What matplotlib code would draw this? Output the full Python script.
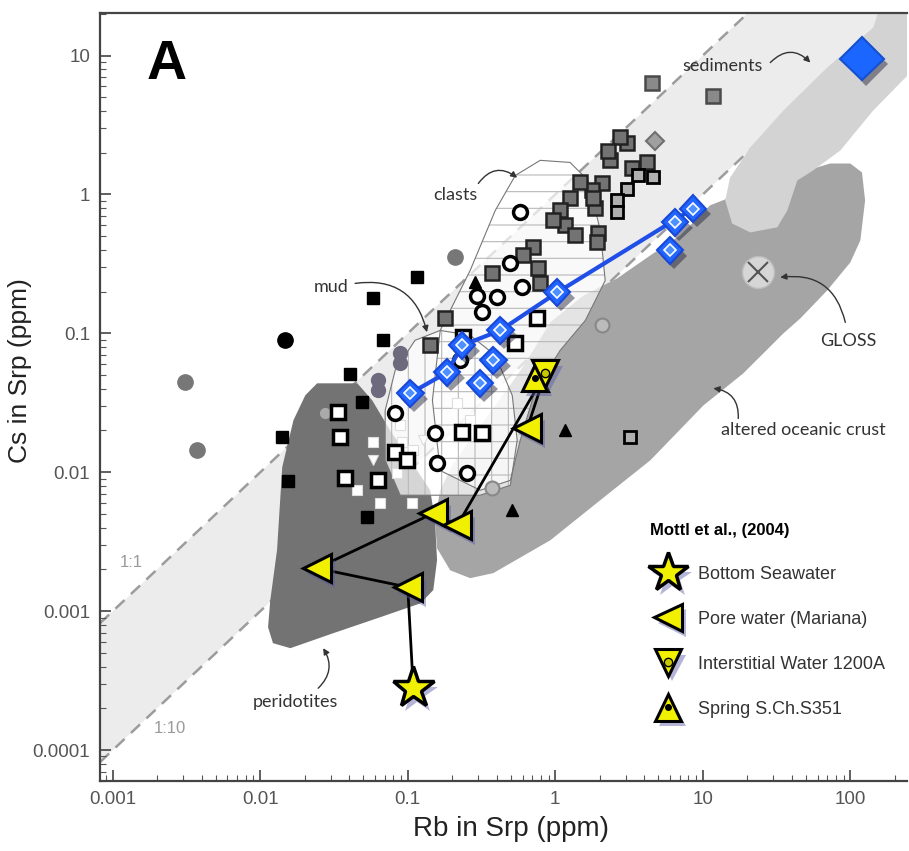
import numpy as np
import matplotlib.pyplot as plt
import matplotlib.patheffects as pe
from matplotlib.lines import Line2D
from matplotlib.ticker import NullFormatter

plt.rcParams['font.family'] = ['Liberation Sans', 'DejaVu Sans']
plt.rcParams['hatch.linewidth'] = 0.8

# ---- axes ----
x_ticks = [0.001, 0.01, 0.1, 1, 10, 100]
x_tick_labels = ['0.001', '0.01', '0.1', '1', '10', '100']
y_ticks = [0.0001, 0.001, 0.01, 0.1, 1, 10]
y_tick_labels = ['0.0001', '0.001', '0.01', '0.1', '1', '10']

# Cs/Rb reference lines
ratio_lines = [1.0, 0.1]
ratio_labels = ['1:1', '1:10']
ratio_label_rb = [0.00133, 0.00245]
ratio_label_cs = [0.00225, 0.000144]

# ---- fields (Rb ppm, Cs ppm) ----
sed_rb = [160, 276, 276, 143, 85.5, 56.1, 43.7, 37.4, 32.0, 21.0, 15.8, 14.2, 15.3, 21.0, 35.2, 69.8, 143]
sed_cs = [22.9, 22.9, 8.2, 4.02, 2.07, 1.49, 1.26, 0.767, 0.58, 0.533, 0.618, 0.906, 1.32, 2.18, 4.02, 8.2, 15.9]

aoc_rb = [45.8, 73.1, 100, 120, 126, 117, 100, 69.8, 45.8, 35.2, 18.8, 10.1, 4.41, 2.02, 0.925, 0.38, 0.265,
          0.194, 0.158, 0.153, 0.166, 0.2, 0.265, 0.392, 0.552, 0.71, 0.925, 1.55, 2.63, 4.41, 7.03, 11.2, 24.5]
aoc_cs = [1.44, 1.67, 1.67, 1.44, 0.906, 0.467, 0.324, 0.204, 0.128, 0.1, 0.0515, 0.0303, 0.0122, 0.0063, 0.00324,
          0.00188, 0.00173, 0.00197, 0.00284, 0.00452, 0.00743, 0.0112, 0.017, 0.0303, 0.0499, 0.0755, 0.12, 0.187,
          0.249, 0.364, 0.507, 0.834, 1.16]

perid_rb = [0.0243, 0.0455, 0.0574, 0.076, 0.104, 0.142, 0.153, 0.158, 0.149, 0.122, 0.0652, 0.0313, 0.016,
            0.0122, 0.0113, 0.0117, 0.013, 0.0141, 0.0168, 0.0202]
perid_cs = [0.0437, 0.0437, 0.033, 0.02, 0.0122, 0.00743, 0.00452, 0.00233, 0.00142, 0.00114, 0.000906, 0.000695,
            0.000542, 0.000589, 0.000767, 0.0012, 0.00275, 0.0109, 0.0237, 0.0358]

mud_rb = [0.112, 0.166, 0.265, 0.392, 0.511, 0.552, 0.496, 0.31, 0.0889, 0.0703, 0.0703, 0.0822]
mud_cs = [0.0891, 0.105, 0.0968, 0.0695, 0.0358, 0.017, 0.00806, 0.00684, 0.00684, 0.0122, 0.0279, 0.0542]

clast_rb = [0.166, 0.147, 0.166, 0.265, 0.392, 0.536, 0.791, 1.26, 1.67, 2.02, 2.18, 1.6, 1.08, 0.731, 0.579, 0.496, 0.31]
clast_cs = [0.0103, 0.033, 0.105, 0.284, 0.767, 1.37, 1.76, 1.7, 1.26, 0.551, 0.24, 0.124, 0.0755, 0.0389, 0.017, 0.00875, 0.00743]

# ---- serpentinite samples ----
blk_sq_rb = [0.116, 0.0583, 0.0683, 0.0407, 0.0492, 0.0141, 0.0155, 0.0531]
blk_sq_cs = [0.253, 0.179, 0.0891, 0.0507, 0.0319, 0.0179, 0.0086, 0.00474]
blk_ci_rb = [0.0148]
blk_ci_cs = [0.0891]
gry_ci_rb = [0.0031, 0.00374, 0.21]
gry_ci_cs = [0.0444, 0.0144, 0.352]
blob_rb = [0.089, 0.089, 0.063, 0.063]
blob_cs = [0.072, 0.061, 0.046, 0.039]
open_sq_rb = [0.0338, 0.0348, 0.0377, 0.0631, 0.0822, 0.0993, 0.234, 0.32, 0.238, 0.536, 0.755]
open_sq_cs = [0.027, 0.0179, 0.00905, 0.00875, 0.0139, 0.0122, 0.0194, 0.0191, 0.0935, 0.0847, 0.130]
wht_sq_rb = [0.0583, 0.0455, 0.0652, 0.0849, 0.107, 0.0889, 0.109, 0.0918, 0.265, 0.217]
wht_sq_cs = [0.0164, 0.00743, 0.00598, 0.00984, 0.00598, 0.0218, 0.0144, 0.0164, 0.0237, 0.0313]
wht_tri_rb = [0.0583, 0.127]
wht_tri_cs = [0.0122, 0.017]
lgt_ci_rb = [0.0276]
lgt_ci_cs = [0.0266]
open_ci_rb = [0.579, 0.496, 0.597, 0.296, 0.405, 0.32, 0.0822, 0.153, 0.158, 0.253, 0.227]
open_ci_cs = [0.743, 0.319, 0.214, 0.187, 0.182, 0.142, 0.0266, 0.0191, 0.0116, 0.00984, 0.064]
gsq_rb = [2.36, 3.08, 2.76, 2.29, 3.33, 4.2, 2.08, 1.78, 1.87, 1.48, 1.26, 1.08, 1.17, 0.968, 1.37, 1.96, 1.93,
          0.71, 0.767, 0.607, 0.374, 0.791, 1.81, 0.179, 0.142]
gsq_cs = [1.76, 2.33, 2.57, 2.07, 1.56, 1.7, 1.2, 1.07, 0.805, 1.22, 0.95, 0.767, 0.598, 0.65, 0.507, 0.524, 0.452,
          0.416, 0.294, 0.364, 0.27, 0.229, 0.95, 0.128, 0.082]
lsq_rb = [3.66, 4.62, 3.08, 2.63, 2.63, 3.22]
lsq_cs = [1.37, 1.33, 1.1, 0.906, 0.743, 0.0179]
sed_sq_rb = [4.55, 11.8]
sed_sq_cs = [6.3, 5.15]
gry_dia_rb = [4.76]
gry_dia_cs = [2.44]
gry_open_rb = [2.08, 0.374]
gry_open_cs = [0.114, 0.00767]
blk_tri_rb = [1.17, 0.511, 0.287]
blk_tri_cs = [0.02, 0.00533, 0.233]

# blue diamonds (mud volcano) and sediment average
blue_rb = [0.104, 0.185, 0.31, 0.234, 0.38, 0.424, 1.03, 6.0, 6.5, 8.6]
blue_cs = [0.037, 0.0524, 0.0436, 0.082, 0.064, 0.105, 0.197, 0.395, 0.63, 0.79]
blue_line_idx = [0, 1, 3, 5, 6, 9]
sed_avg_rb = [120]
sed_avg_cs = [9.5]
gloss_rb = [23.8]
gloss_cs = [0.275]

# Mottl et al. (2004) fluids
seawater_rb = [0.109]
seawater_cs = [0.00028]
pore_rb = [0.1, 0.0243, 0.149, 0.217, 0.646]
pore_cs = [0.00149, 0.00204, 0.00507, 0.00416, 0.0208]
iw_rb = [0.855]
iw_cs = [0.0515]
spring_rb = [0.73]
spring_cs = [0.048]

yellow = '#f0f000'
blue = '#2266ff'
ysh = [pe.SimplePatchShadow(offset=(3, -4), shadow_rgbFace='#5a5aa8', alpha=0.45), pe.Normal()]
bsh = [pe.SimplePatchShadow(offset=(3, -4), shadow_rgbFace='#1a1a30', alpha=0.45), pe.Normal()]

fig = plt.figure(figsize=(9.09, 8.51), dpi=100)
ax = fig.add_axes([0.110, 0.0823, 0.888, 0.903])
ax.set_xscale('log')
ax.set_yscale('log')
ax.set_xlim(8.2e-4, 243)
ax.set_ylim(6e-5, 20.4)

# band between 1:1 and 1:10
xs = np.array(ax.get_xlim())
ax.fill_between(xs, xs * ratio_lines[1], xs * ratio_lines[0], color='#ececec', lw=0, zorder=0.5)
for r in ratio_lines:
    ax.plot(xs, xs * r, ls=(0, (5, 3.5)), color='#9c9c9c', lw=1.8, zorder=0.6)
for lab, lx, ly in zip(ratio_labels, ratio_label_rb, ratio_label_cs):
    ax.text(lx, ly, lab, color='#9a9a9a', fontsize=12, ha='center', va='center', zorder=0.7)

# fields
ax.fill(aoc_rb, aoc_cs, color='#a5a5a5', lw=0, zorder=1)
ax.fill(sed_rb, sed_cs, color='#d3d3d3', lw=0, zorder=1.1)
ax.fill(perid_rb, perid_cs, color='#737373', lw=0, zorder=1.2)
for rb, cs, h in [(mud_rb, mud_cs, '|'), (clast_rb, clast_cs, '-')]:
    ax.fill(rb, cs, facecolor='white', alpha=0.7, lw=0, zorder=1.3)
    ax.fill(rb, cs, facecolor='none', edgecolor='#b8b8b8', hatch=h, lw=0, zorder=1.31)
    ax.fill(rb, cs, facecolor='none', edgecolor='#777777', lw=0.8, zorder=1.32)

# samples
kw = dict(ls='none', zorder=3)
ax.plot(gry_ci_rb, gry_ci_cs, 'o', ms=11, mfc='#777777', mec='#777777', **kw)
ax.plot(blob_rb, blob_cs, 'o', ms=10, mfc='#6e6a7e', mec='#6e6a7e', **kw)
ax.plot(blk_ci_rb, blk_ci_cs, 'o', ms=11, mfc='black', mec='black', **kw)
ax.plot(blk_sq_rb, blk_sq_cs, 's', ms=9, mfc='black', mec='black', **kw)
ax.plot(lgt_ci_rb, lgt_ci_cs, 'o', ms=7, mfc='#aaaaaa', mec='#aaaaaa', **kw)
ax.plot(wht_sq_rb, wht_sq_cs, 's', ms=6.5, mfc='white', mec='#dddddd', mew=0.8, **kw)
ax.plot(wht_tri_rb, wht_tri_cs, 'v', ms=7, mfc='white', mec='#dddddd', mew=0.8, **kw)
ax.plot(gsq_rb, gsq_cs, 's', ms=10.5, mfc='#737373', mec='#222222', mew=1.8, **kw)
ax.plot(lsq_rb, lsq_cs, 's', ms=9, mfc='#b0b0b0', mec='black', mew=2, **kw)
ax.plot(sed_sq_rb, sed_sq_cs, 's', ms=10.5, mfc='#8a8a8a', mec='#4a4a4a', mew=1.8, **kw)
ax.plot(gry_dia_rb, gry_dia_cs, 'D', ms=9, mfc='#a0a0a0', mec='#707070', mew=1.5, **kw)
ax.plot(gry_open_rb, gry_open_cs, 'o', ms=10, mfc='#bbbbbb', mec='#888888', mew=1.5, **kw)
ax.plot(open_sq_rb, open_sq_cs, 's', ms=9.5, mfc='white', mec='black', mew=2.5, **kw)
ax.plot(open_ci_rb, open_ci_cs, 'o', ms=10, mfc='white', mec='black', mew=2.5, **kw)
ax.plot(blk_tri_rb, blk_tri_cs, '^', ms=8.5, mfc='black', mec='black', **kw)

# GLOSS
ax.plot(gloss_rb, gloss_cs, 'o', ms=23, mfc='#d6d6d6', mec='#bdbdbd', mew=1, ls='none', zorder=3)
ax.plot(gloss_rb, gloss_cs, 'x', ms=15, mec='#555555', mew=1.5, ls='none', zorder=3.1)

# blue diamonds
ax.plot([blue_rb[i] for i in blue_line_idx], [blue_cs[i] for i in blue_line_idx],
        color='#1f4fe6', lw=3, zorder=4)
ax.plot(blue_rb, blue_cs, 'D', ms=13.5, mfc=blue, mec='#1848d8', mew=1.5, ls='none', zorder=4.5,
        path_effects=bsh)
ax.plot(blue_rb, blue_cs, 'D', ms=6, mfc='#4d90ff', mec='white', mew=1.2, ls='none', zorder=4.6)
ax.plot(sed_avg_rb, sed_avg_cs, 'D', ms=22, mfc='#1a66ff', mec='#1450d0', mew=1.5, ls='none', zorder=4.5,
        path_effects=bsh)

# Mottl et al. fluids
path_rb = seawater_rb + pore_rb[:4] + iw_rb + pore_rb[4:]
path_cs = seawater_cs + pore_cs[:4] + iw_cs + pore_cs[4:]
ax.plot(path_rb, path_cs, color='black', lw=2, zorder=5)
ax.plot(pore_rb, pore_cs, '<', ms=20, mfc=yellow, mec='black', mew=2.2, ls='none', zorder=5.5, path_effects=ysh)
ax.plot(seawater_rb, seawater_cs, '*', ms=31, mfc=yellow, mec='black', mew=2.5, ls='none', zorder=5.5,
        path_effects=ysh)
ax.plot(spring_rb, spring_cs, '^', ms=19, mfc=yellow, mec='black', mew=2.2, ls='none', zorder=5.5, path_effects=ysh)
ax.plot(spring_rb, spring_cs, 'o', ms=4, mfc='black', mec='black', ls='none', zorder=5.6)
ax.plot(iw_rb, iw_cs, 'v', ms=19, mfc=yellow, mec='black', mew=2.2, ls='none', zorder=5.55, path_effects=ysh)
ax.plot(iw_rb, iw_cs, 'o', ms=6, mfc='#c8c800', mec='black', mew=1, ls='none', zorder=5.6)

# field labels
tkw = dict(family=['Lato', 'DejaVu Sans'], fontsize=13, color='#333333', zorder=6)
akw = dict(arrowstyle='-|>', color='#333333', lw=1, shrinkA=0, shrinkB=0, mutation_scale=9)
ax.text(13.6, 8.47, 'sediments', ha='center', va='center', **tkw)
ax.annotate('', xy=(53.6, 8.9), xytext=(28.7, 8.9), zorder=6,
            arrowprops=dict(connectionstyle='arc3,rad=-0.5', **akw))
ax.text(0.21, 0.984, 'clasts', ha='center', va='center', **tkw)
ax.annotate('', xy=(0.552, 1.32), xytext=(0.301, 1.2), zorder=6,
            arrowprops=dict(connectionstyle='arc3,rad=-0.5', **akw))
ax.text(0.0303, 0.214, 'mud', ha='center', va='center', **tkw)
ax.annotate('', xy=(0.135, 0.102), xytext=(0.044, 0.229), zorder=6,
            arrowprops=dict(connectionstyle='arc3,rad=-0.45', **akw))
ax.text(96.9, 0.0875, 'GLOSS', ha='center', va='center', **tkw)
ax.annotate('', xy=(33.5, 0.253), xytext=(92.5, 0.12), zorder=6,
            arrowprops=dict(connectionstyle='arc3,rad=0.45', **akw))
ax.text(48, 0.02, 'altered oceanic crust', ha='center', va='center', **tkw)
ax.annotate('', xy=(11.8, 0.0402), xytext=(17.4, 0.0244), zorder=6,
            arrowprops=dict(connectionstyle='arc3,rad=0.45', **akw))
ax.text(0.0173, 0.000221, 'peridotites', ha='center', va='center', **tkw)
ax.annotate('', xy=(0.0267, 0.000542), xytext=(0.0247, 0.000279), zorder=6,
            arrowprops=dict(connectionstyle='arc3,rad=0.4', **akw))

ax.text(0.058, 0.966, 'A', transform=ax.transAxes, fontsize=40, fontweight='bold', va='top', ha='left')

# legend
h_star = Line2D([], [], ls='none', marker='*', ms=30, mfc=yellow, mec='black', mew=2.5, path_effects=ysh)
h_pore = Line2D([], [], ls='none', marker='<', ms=20, mfc=yellow, mec='black', mew=2.2, path_effects=ysh)
h_iw = (Line2D([], [], ls='none', marker='v', ms=19, mfc=yellow, mec='black', mew=2.2, path_effects=ysh),
        Line2D([], [], ls='none', marker='o', ms=6, mfc='#c8c800', mec='black', mew=1))
h_sp = (Line2D([], [], ls='none', marker='^', ms=19, mfc=yellow, mec='black', mew=2.2, path_effects=ysh),
        Line2D([], [], ls='none', marker='o', ms=4, mfc='black', mec='black'))
leg = ax.legend([h_star, h_pore, h_iw, h_sp],
                ['Bottom Seawater', 'Pore water (Mariana)', 'Interstitial Water 1200A', 'Spring S.Ch.S351'],
                loc='upper left', bbox_to_anchor=(0.6815, 0.336), frameon=False, fontsize=13,
                title='Mottl et al., (2004)', title_fontproperties={'weight': 'bold', 'size': 12},
                alignment='left', labelspacing=1.55, handletextpad=0.65, handlelength=2.0,
                borderpad=0, borderaxespad=0)
for t in leg.get_texts():
    t.set_color('#333333')
leg.set_zorder(7)

# axes styling
ax.set_xticks(x_ticks)
ax.set_xticklabels(x_tick_labels)
ax.set_yticks(y_ticks)
ax.set_yticklabels(y_tick_labels)
ax.xaxis.set_minor_formatter(NullFormatter())
ax.yaxis.set_minor_formatter(NullFormatter())
ax.tick_params(which='major', direction='in', length=8, width=1.2, color='#444444',
               labelsize=13.5, labelcolor='#555555', pad=7)
ax.tick_params(which='minor', direction='in', length=4, width=0.8, color='#555555')
for s in ['left', 'bottom', 'top']:
    ax.spines[s].set_color('#444444')
    ax.spines[s].set_linewidth(1.6)
ax.spines['right'].set_visible(False)
ax.set_xlabel('Rb in Srp (ppm)', fontsize=20, color='#222222')
ax.set_ylabel('Cs in Srp (ppm)', fontsize=19, color='#222222')
ax.xaxis.set_label_coords(0.509, -0.045)
ax.yaxis.set_label_coords(-0.084, 0.534)

fig.savefig('out.png', dpi=100)
